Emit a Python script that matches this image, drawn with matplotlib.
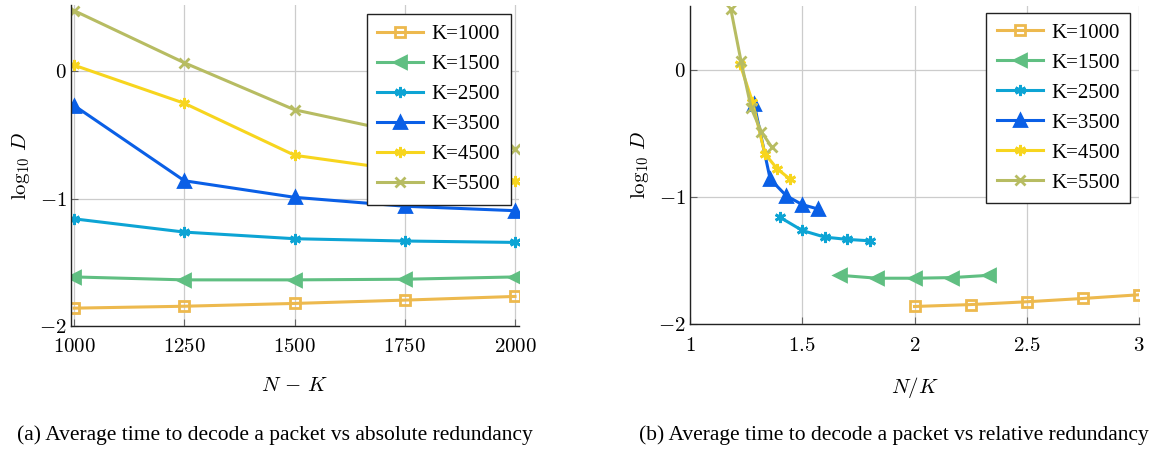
import matplotlib
matplotlib.use("Agg")
import matplotlib.pyplot as plt
from matplotlib.ticker import FuncFormatter
import numpy as np

plt.rcParams['font.family'] = ['Liberation Serif', 'DejaVu Serif']
plt.rcParams['mathtext.fontset'] = 'cm'

# redundancy N-K, and code sizes K
redundancy = [1000, 1250, 1500, 1750, 2000]
k_values = [1000, 1500, 2500, 3500, 4500, 5500]
labels = ['K=1000', 'K=1500', 'K=2500', 'K=3500', 'K=4500', 'K=5500']

# log10 of average decode time, one list per K
logd_k1000 = [-1.86, -1.845, -1.823, -1.797, -1.768]
logd_k1500 = [-1.615, -1.638, -1.638, -1.633, -1.615]
logd_k2500 = [-1.159, -1.263, -1.315, -1.333, -1.344]
logd_k3500 = [-0.27, -0.86, -0.99, -1.06, -1.095]
logd_k4500 = [0.047, -0.252, -0.66, -0.78, -0.858]
logd_k5500 = [0.475, 0.066, -0.303, -0.488, -0.608]
series = [logd_k1000, logd_k1500, logd_k2500, logd_k3500, logd_k4500, logd_k5500]

colors = ['#EDB94E', '#60BF82', '#0DA4D4', '#0A5FE6', '#F7D51E', '#B7BC62']
markers = ['s', '<', (6, 2, 0), '^', (6, 2, 0), 'x']
msizes = [7.5, 8.5, 8, 9, 8, 7]
mfcs = ['none', None, None, None, None, None]

fig = plt.figure(figsize=(11.51, 4.51), dpi=100)
ax1 = fig.add_axes([0.0614, 0.2772, 0.3895, 0.7118])
ax2 = fig.add_axes([0.5995, 0.2809, 0.3901, 0.7058])

math_fmt = FuncFormatter(lambda v, p: '$%g$' % v)


def style_axes(ax):
    ax.set_yticks([-2, -1, 0])
    ax.grid(True, color='#cccccc', linewidth=0.9)
    ax.set_axisbelow(True)
    for s in ['top', 'right']:
        ax.spines[s].set_visible(False)
    for s in ['left', 'bottom']:
        ax.spines[s].set_color('#222222')
        ax.spines[s].set_linewidth(1.0)
    ax.tick_params(direction='in', length=5, color='#666666', labelsize=15)
    ax.tick_params(axis='x', pad=9)
    ax.tick_params(axis='y', pad=3)
    ax.xaxis.set_major_formatter(math_fmt)
    ax.yaxis.set_major_formatter(math_fmt)
    ax.set_ylabel(r'$\log_{10}\,D$', fontsize=15, labelpad=5)


for i in range(len(k_values)):
    kw = dict(color=colors[i], marker=markers[i], markersize=msizes[i], linewidth=2.2,
              markeredgewidth=2.0, label=labels[i])
    if mfcs[i] is not None:
        kw['markerfacecolor'] = mfcs[i]
    ax1.plot(redundancy, series[i], **kw)
    ratio = 1 + np.array(redundancy) / k_values[i]
    ax2.plot(ratio, series[i], **kw)

style_axes(ax1)
ax1.set_ylim(-2, 0.52)
ax1.set_xlim(992, 2009)
ax1.set_xticks(redundancy)
ax1.set_xlabel(r'$N\,-\,K$', fontsize=15, labelpad=14)

style_axes(ax2)
ax2.set_ylim(-2, 0.5)
ax2.set_xlim(1, 3)
ax2.set_xticks([1, 1.5, 2, 2.5, 3])
ax2.set_xlabel(r'$N/K$', fontsize=15, labelpad=14)

for ax, anchor in [(ax1, (0.9815, 0.971)), (ax2, (0.980, 0.979))]:
    leg = ax.legend(loc='upper right', bbox_to_anchor=anchor, borderaxespad=0,
                    fontsize=15, fancybox=False, framealpha=1, edgecolor='#222222',
                    handlelength=2.2, handletextpad=0.4, labelspacing=0.5,
                    borderpad=0.5)
    leg.get_frame().set_linewidth(1.0)

fig.text(0.239, 0.035, '(a) Average time to decode a packet vs absolute redundancy',
         ha='center', va='center', fontsize=15.5)
fig.text(0.777, 0.035, '(b) Average time to decode a packet vs relative redundancy',
         ha='center', va='center', fontsize=15.5)

fig.savefig('out.png', dpi=100)
